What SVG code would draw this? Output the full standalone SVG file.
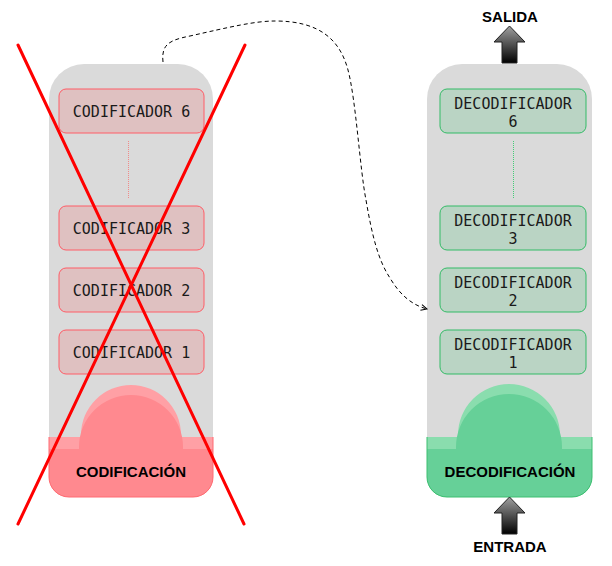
<svg xmlns="http://www.w3.org/2000/svg" width="612" height="566" viewBox="0 0 612 566">
<style>
.cont{fill:#DADADA;}
.mono{font-family:"DejaVu Sans Mono","Liberation Mono",monospace;font-size:15px;fill:#1a1a1a;text-anchor:middle;}
.bold{font-family:"Liberation Sans",Arial,sans-serif;font-weight:bold;font-size:15px;fill:#000;text-anchor:middle;}
.enc{fill:#DFC1C1;stroke:#FF5C66;stroke-width:1;}
.dec{fill:#BAD4C4;stroke:#33BB66;stroke-width:1;}
.arrow{fill:url(#ag);stroke:#222;stroke-width:1;}
.cross{stroke:#FF0000;stroke-width:3;stroke-linecap:round;}
</style>
<defs>
<linearGradient id="ag" x1="0" y1="0" x2="0" y2="1">
<stop offset="0" stop-color="#A0A0A0"/>
<stop offset="1" stop-color="#000000"/>
</linearGradient>
<clipPath id="clipL"><path d="M49,99 A35,35 0 0 1 84,64 L178,64 A35,35 0 0 1 213,99 L213,477 A20,20 0 0 1 193,497 L69,497 A20,20 0 0 1 49,477 Z"/></clipPath>
<clipPath id="clipR"><path d="M427,99 A35,35 0 0 1 462,64 L557,64 A35,35 0 0 1 592,99 L592,477 A20,20 0 0 1 572,497 L447,497 A20,20 0 0 1 427,477 Z"/></clipPath>
<marker id="arr" markerWidth="8" markerHeight="8" refX="7" refY="4" orient="auto" markerUnits="userSpaceOnUse">
<path d="M1,1 L7,4 L1,7" fill="none" stroke="#000" stroke-width="1"/>
</marker>
</defs>

<g id="encoder">
<path class="cont" d="M49,99 A35,35 0 0 1 84,64 L178,64 A35,35 0 0 1 213,99 L213,477 A20,20 0 0 1 193,497 L69,497 A20,20 0 0 1 49,477 Z"/>
<g clip-path="url(#clipL)">
<path fill="#FFA0A5" d="M40,437 L81,437 L81,435 A50,50 0 0 1 181,435 L181,437 L220,437 L220,505 L40,505 Z"/>
<path fill="#FF898F" d="M40,449 L79,449 L79,447 A52,52 0 0 1 183,447 L183,449 L220,449 L220,505 L40,505 Z"/>
</g>
<path fill="none" stroke="#FF6B72" stroke-width="1" d="M49,437 L49,477 A20,20 0 0 0 69,497 L193,497 A20,20 0 0 0 213,477 L213,437"/>
<text class="bold" x="131" y="477">CODIFICACIÓN</text>
</g>

<g id="enc6"><rect class="enc" x="59" y="89" width="145" height="44" rx="7"/><text class="mono" x="131.5" y="117">CODIFICADOR 6</text></g>
<line x1="128.5" y1="141" x2="128.5" y2="199" stroke="#F08A8A" stroke-width="1" stroke-dasharray="1,1"/>
<g id="enc3"><rect class="enc" x="59" y="206" width="145" height="44" rx="7"/><text class="mono" x="131.5" y="234">CODIFICADOR 3</text></g>
<g id="enc2"><rect class="enc" x="59" y="268" width="145" height="44" rx="7"/><text class="mono" x="131.5" y="296">CODIFICADOR 2</text></g>
<g id="enc1"><rect class="enc" x="59" y="330" width="145" height="44" rx="7"/><text class="mono" x="131.5" y="358">CODIFICADOR 1</text></g>

<g id="decoder">
<path class="cont" d="M427,99 A35,35 0 0 1 462,64 L557,64 A35,35 0 0 1 592,99 L592,477 A20,20 0 0 1 572,497 L447,497 A20,20 0 0 1 427,477 Z"/>
<g clip-path="url(#clipR)">
<path fill="#8ADDAE" d="M420,437 L458,437 L458,435 A51,51 0 0 1 560,435 L560,437 L600,437 L600,505 L420,505 Z"/>
<path fill="#66D098" d="M420,449 L456,449 L456,447 A53,53 0 0 1 562,447 L562,449 L600,449 L600,505 L420,505 Z"/>
</g>
<path fill="none" stroke="#3CBF70" stroke-width="1" d="M427,437 L427,477 A20,20 0 0 0 447,497 L572,497 A20,20 0 0 0 592,477 L592,437"/>
<text class="bold" x="510" y="477">DECODIFICACIÓN</text>
</g>

<g id="dec6"><rect class="dec" x="440" y="89" width="146" height="44" rx="7"/><text class="mono" x="513" y="109">DECODIFICADOR</text><text class="mono" x="513" y="127">6</text></g>
<line x1="513.5" y1="141" x2="513.5" y2="199" stroke="#44CC77" stroke-width="1" stroke-dasharray="1,1"/>
<g id="dec3"><rect class="dec" x="440" y="206" width="146" height="44" rx="7"/><text class="mono" x="513" y="226">DECODIFICADOR</text><text class="mono" x="513" y="244">3</text></g>
<g id="dec2"><rect class="dec" x="440" y="268" width="146" height="44" rx="7"/><text class="mono" x="513" y="288">DECODIFICADOR</text><text class="mono" x="513" y="306">2</text></g>
<g id="dec1"><rect class="dec" x="440" y="330" width="146" height="44" rx="7"/><text class="mono" x="513" y="350">DECODIFICADOR</text><text class="mono" x="513" y="368">1</text></g>

<g id="salida">
<polygon class="arrow" points="509.5,26 494,42 502,42 502,63 517,63 517,42 525,42"/>
<text class="bold" x="510" y="22">SALIDA</text>
</g>
<g id="entrada">
<polygon class="arrow" points="509.5,497 494,513 502,513 502,534 517,534 517,513 525,513"/>
<text class="bold" x="510" y="552">ENTRADA</text>
</g>

<g id="connectors">
<path d="M163,62 C161,44 170,40 190,36 C230,27 255,21 275,21 C320,21 340,40 348,70 C356,100 360,170 366,200 C372,235 378,260 390,278 C400,295 412,305 427,309" fill="none" stroke="#000" stroke-width="1" stroke-dasharray="4,3" marker-end="url(#arr)"/>
</g>

<g id="cross">
<line class="cross" x1="18" y1="45" x2="244" y2="524"/>
<line class="cross" x1="245" y1="45" x2="18" y2="524"/>
</g>
</svg>
